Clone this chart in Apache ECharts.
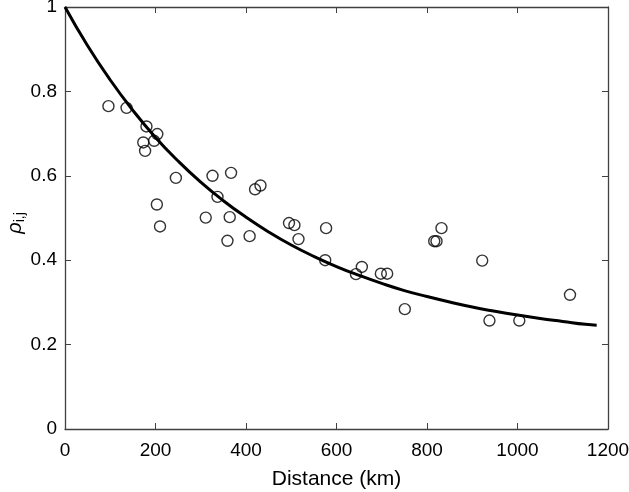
<!DOCTYPE html>
<html><head><meta charset="utf-8">
<script src="https://cdn.jsdelivr.net/npm/echarts@6/dist/echarts.min.js"></script>
<style>html,body{margin:0;padding:0;background:#fff}#c{width:629px;height:492px}</style>
</head><body><div id="c"></div>
<script>
const xTicks = [0, 200, 400, 600, 800, 1000, 1200];
const yTicks = [0, 0.2, 0.4, 0.6, 0.8, 1];
const obsDistance = [96,136,180,204,173,197,177,245,326,367,337,203,210,311,364,359,408,420,495,507,577,516,575,432,832,816,821,922,656,698,712,643,1116,938,1004,751];
const obsRho = [0.765,0.761,0.717,0.699,0.679,0.683,0.659,0.595,0.600,0.607,0.550,0.532,0.480,0.501,0.502,0.446,0.457,0.568,0.488,0.483,0.476,0.450,0.400,0.577,0.476,0.445,0.445,0.399,0.384,0.368,0.368,0.367,0.318,0.257,0.257,0.284];
const fitDistance = [0,50,100,150,200,250,300,350,400,450,500,550,600,650,700,750,800,850,900,950,1000,1050,1100,1150,1175];
const fitRho = [1.0,0.908,0.827,0.755,0.691,0.635,0.585,0.541,0.502,0.467,0.436,0.409,0.385,0.364,0.345,0.328,0.314,0.301,0.289,0.279,0.270,0.262,0.255,0.248,0.246];

const font = 'Liberation Sans, Arial, sans-serif';
const axisCol = '#404040';
const chart = echarts.init(document.getElementById('c'));
const baseX = {type:'value', min:xTicks[0], max:xTicks[xTicks.length-1], interval:200,
  axisLine:{show:true,onZero:false,lineStyle:{color:axisCol,width:1.3}},
  axisTick:{show:true,inside:true,length:6,lineStyle:{color:axisCol}},
  splitLine:{show:false}};
const baseY = {type:'value', min:yTicks[0], max:yTicks[yTicks.length-1], interval:0.2,
  axisLine:{show:true,onZero:false,lineStyle:{color:axisCol,width:1.3}},
  axisTick:{show:true,inside:true,length:6,lineStyle:{color:axisCol}},
  splitLine:{show:false}};
chart.setOption({
  animation:false,
  backgroundColor:'#fff',
  grid:{left:65,right:21,top:7,bottom:63,containLabel:false,outerBoundsMode:'none'},
  xAxis:[
    Object.assign({}, baseX, {position:'bottom',
      name:'Distance (km)', nameLocation:'middle', nameGap:40, nameMoveOverlap:false,
      nameTextStyle:{fontFamily:font,fontSize:21,color:'#000'},
      axisLabel:{fontFamily:font,fontSize:19,color:'#000',margin:12,
        formatter:v=>String(v)}}),
    Object.assign({}, baseX, {position:'top', axisLabel:{show:false}})
  ],
  yAxis:[
    Object.assign({}, baseY, {position:'left',
      name:'{a|ρ}{b|i,j}', nameLocation:'middle', nameGap:38, nameRotate:90, nameMoveOverlap:false,
      nameTextStyle:{padding:[0,10,0,0],rich:{a:{fontFamily:font,fontSize:20,color:'#000',fontStyle:'italic'},b:{fontFamily:font,fontSize:14,color:'#000',verticalAlign:'bottom',padding:[9,0,0,0]}}},
      axisLabel:{fontFamily:font,fontSize:19,color:'#000',margin:8,padding:[6,0,0,0],
        formatter:v=>String(Math.round(v*10)/10)}}),
    Object.assign({}, baseY, {position:'right', axisLabel:{show:false}})
  ],
  series:[
    {type:'scatter', data:obsDistance.map((d,i)=>[d,obsRho[i]]), symbol:'circle', symbolSize:11,
      itemStyle:{color:'transparent',borderColor:'#000',borderWidth:1.4}, z:3},
    {type:'line', data:fitDistance.map((d,i)=>[d,fitRho[i]]), smooth:true, showSymbol:false,
      lineStyle:{color:'#000',width:3}, z:4}
  ]
});
</script></body></html>
